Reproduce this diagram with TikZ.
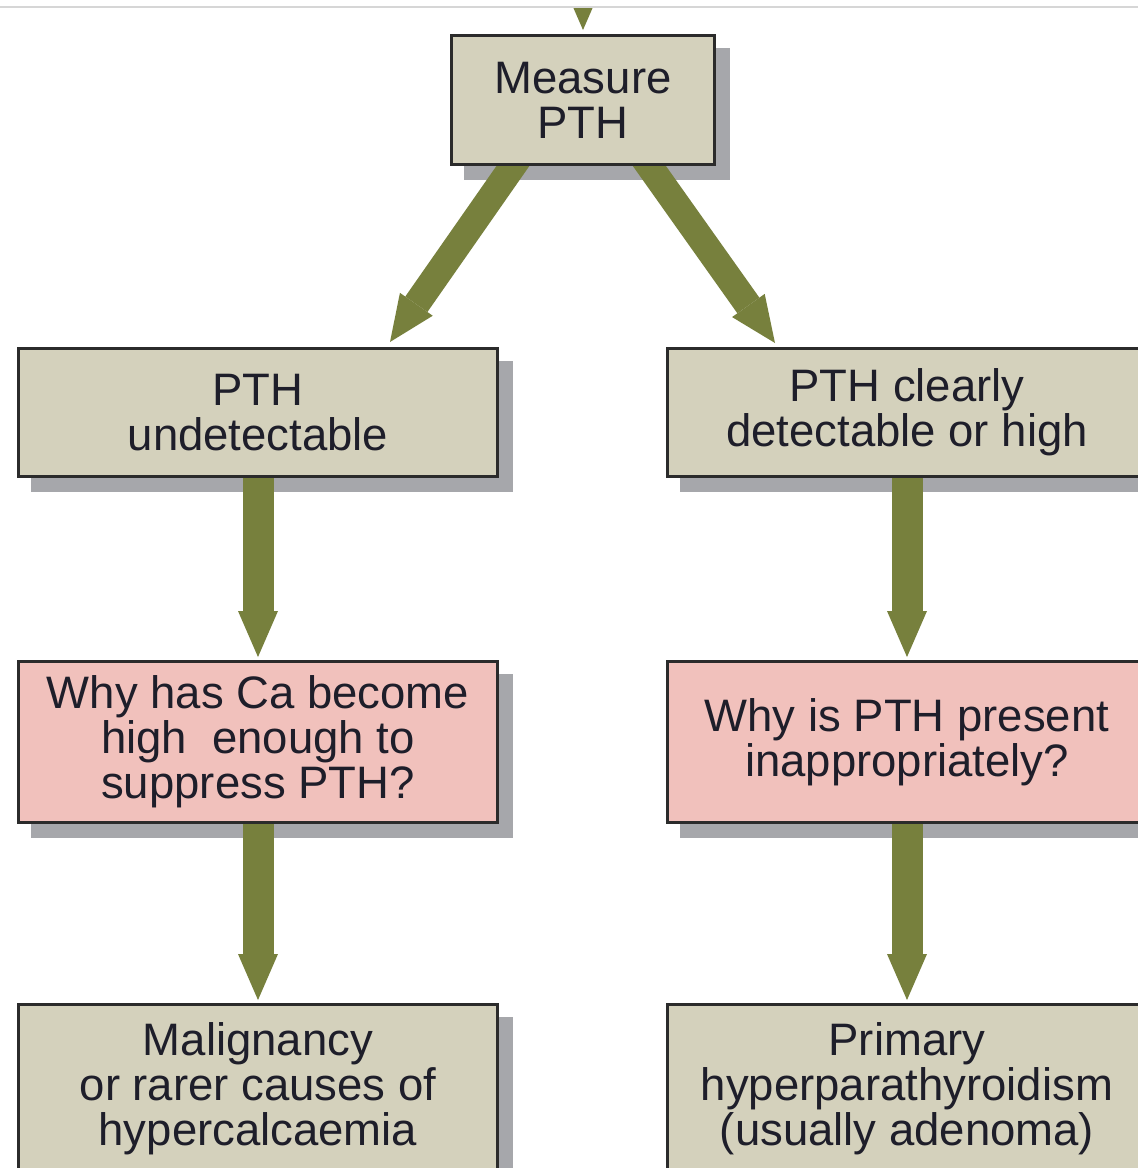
\documentclass[tikz,border=0pt]{standalone}
\usepackage{fontspec}
\setmainfont{Liberation Sans}
\usetikzlibrary{arrows.meta,calc}
\pgfdeclarelayer{background}
\pgfsetlayers{background,main}
\definecolor{beige}{HTML}{D4D1BC}
\definecolor{pinkbox}{HTML}{F1C1BC}
\definecolor{shadowc}{HTML}{A6A7AB}
\definecolor{olivec}{HTML}{77803D}
\definecolor{borderc}{HTML}{2B2B2B}
\definecolor{txtc}{HTML}{1E1E2A}
\definecolor{topline}{HTML}{D6D6D6}
\tikzset{
  box/.style={draw=borderc, line width=3pt, fill=beige, inner sep=0pt, align=center,
    text=txtc, font=\fontsize{45.5pt}{45pt}\selectfont, minimum width=479pt},
  qbox/.style={box, fill=pinkbox},
  varrow/.style={draw=olivec, line width=31pt, -{Triangle[width=40pt,length=46pt,line width=0pt]}},
  darrow/.style={draw=olivec, line width=27pt, -{Triangle[width=40pt,length=46pt,line width=0pt]}},
  shadowbox/.style={fill=shadowc}
}
\begin{document}
\begin{tikzpicture}[x=1pt,y=-1pt]
\useasboundingbox (0,0) rectangle (1138,1168);

\node[box, minimum width=263pt, minimum height=129pt] (m) at (583,100) {Measure\\PTH};
\node[box, minimum height=128pt] (pu) at (258,412.5) {PTH\\undetectable};
\node[box, minimum height=128pt] (pd) at (907,412.5) {PTH clearly\\detectable or high};
\node[qbox, minimum height=161pt] (wl) at (258,742) {Why has Ca become\\high~~enough to\\suppress PTH?};
\node[qbox, minimum height=161pt] (wr) at (907,742) {Why is PTH present\\inappropriately?};
\node[box, minimum height=169pt] (bl) at (258,1089) {Malignancy\\or rarer causes of\\hypercalcaemia};
\node[box, minimum height=169pt] (br) at (907,1089) {Primary\\hyperparathyroidism\\(usually adenoma)};

\coordinate (src) at (583,-40);

\begin{pgfonlayer}{background}
  \fill[white] (0,0) rectangle (1138,1168);
  \foreach \n in {m,pu,pd,wl,wr,bl,br}
    \fill[shadowbox] ($(\n.south west)+(14,14)$) rectangle ($(\n.north east)+(14,14)$);
  \begin{scope}
    \clip (0,8) rectangle (1138,200);
    \draw[varrow, shorten >=4pt] (src) -- (m.north);
  \end{scope}
  \draw[darrow] ($(m.south)+(-53,-24.5)$) -- ($(pu.north east)+(-109,-5)$);
  \draw[darrow] ($(m.south)+(49,-24.5)$) -- ($(pd.north west)+(109,-4)$);
  \draw[varrow, shorten >=3pt] ($(pu.south)+(0,-5)$) -- (wl.north);
  \draw[varrow, shorten >=3pt] ($(pd.south)+(0,-5)$) -- (wr.north);
  \draw[varrow, shorten >=3pt] ($(wl.south)+(0,-5)$) -- (bl.north);
  \draw[varrow, shorten >=3pt] ($(wr.south)+(0,-5)$) -- (br.north);
\end{pgfonlayer}

\draw[topline, line width=2.5pt] (0,7) -- (1138,7);
\end{tikzpicture}
\end{document}
